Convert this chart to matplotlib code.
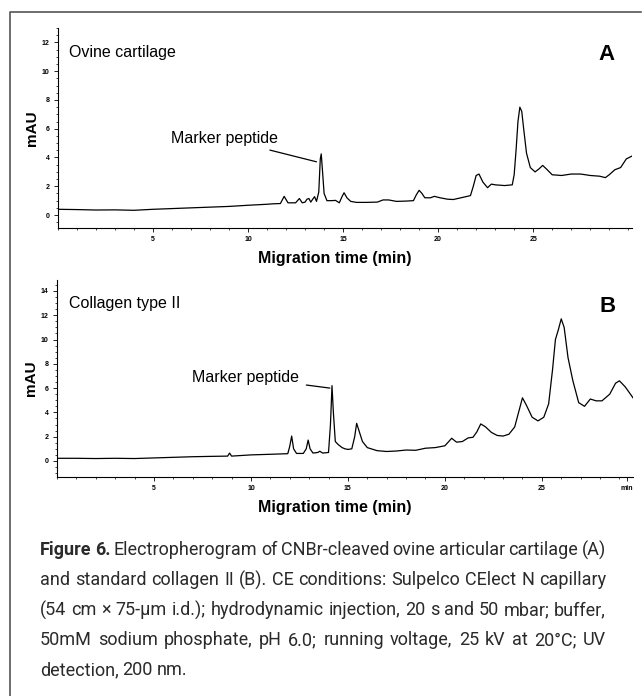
import matplotlib
matplotlib.use("Agg")
import matplotlib.pyplot as plt
from matplotlib.lines import Line2D
from matplotlib.ticker import MultipleLocator

# panel A: ovine cartilage trace (min, mAU)
time_a = [0, 1, 2, 3, 4, 5, 6, 7, 8, 9, 10, 11, 11.3, 11.7, 11.8, 11.9, 12.1,
          12.5, 12.6, 12.7, 12.85, 13.0, 13.1, 13.2, 13.3, 13.4, 13.5, 13.6,
          13.72, 13.8, 13.85, 13.92, 14.0, 14.15, 14.4, 14.6, 14.8, 14.95, 15.05,
          15.2, 15.4, 15.7, 16.2, 16.8, 17.1, 17.4, 17.8, 18.3, 18.7, 18.85,
          19.0, 19.15, 19.3, 19.6, 19.8, 20.1, 20.5, 20.8, 21.2, 21.7, 21.85,
          22.0, 22.15, 22.35, 22.6, 22.8, 23.0, 23.5, 23.9, 24.0, 24.1, 24.2,
          24.3, 24.4, 24.5, 24.65, 24.85, 25.1, 25.3, 25.5, 25.7, 26.0, 26.5,
          27.0, 27.5, 28.0, 28.5, 28.8, 29.0, 29.3, 29.6, 29.9, 30.2]
mau_a = [0.4, 0.38, 0.35, 0.36, 0.33, 0.4, 0.45, 0.5, 0.55, 0.6, 0.68, 0.75,
         0.78, 0.8, 1.05, 1.3, 0.85, 0.85, 1.0, 1.15, 0.85, 0.9, 1.1, 1.15, 0.9,
         1.1, 1.28, 0.95, 1.6, 3.9, 4.25, 3.0, 1.5, 1.0, 1.0, 1.02, 0.85, 1.3,
         1.55, 1.2, 0.95, 0.88, 0.88, 0.9, 1.05, 1.05, 0.95, 0.97, 1.0, 1.4,
         1.72, 1.5, 1.2, 1.2, 1.3, 1.2, 1.1, 1.08, 1.2, 1.35, 2.0, 2.75, 2.85,
         2.3, 1.9, 2.15, 2.1, 2.05, 2.1, 2.8, 4.5, 6.5, 7.5, 7.2, 6.0, 4.3, 3.3,
         3.0, 3.2, 3.45, 3.2, 2.8, 2.75, 2.85, 2.85, 2.75, 2.7, 2.6, 2.8, 3.15,
         3.3, 3.9, 4.1]

# panel B: collagen type II trace (min, mAU)
time_b = [0, 1, 2, 3, 4, 5, 6, 7, 8, 8.8, 8.9, 9.0, 10, 11, 11.9, 12.0, 12.1,
          12.2, 12.35, 12.7, 12.85, 12.95, 13.05, 13.2, 13.45, 13.55, 13.7, 14.0,
          14.1, 14.18, 14.25, 14.35, 14.5, 14.7, 14.85, 15.0, 15.2, 15.35, 15.45,
          15.55, 15.75, 16.0, 16.5, 17.0, 17.5, 18.0, 18.5, 19.0, 19.5, 20.0,
          20.2, 20.35, 20.6, 20.9, 21.2, 21.45, 21.65, 21.85, 22.1, 22.4, 22.7,
          23.0, 23.3, 23.6, 23.85, 24.0, 24.2, 24.5, 24.8, 25.1, 25.35, 25.55,
          25.7, 25.85, 26.0, 26.15, 26.35, 26.6, 26.9, 27.2, 27.5, 27.8, 28.1,
          28.5, 28.8, 29.0, 29.3, 29.7]
mau_b = [0.22, 0.22, 0.2, 0.22, 0.2, 0.25, 0.3, 0.35, 0.38, 0.4, 0.65, 0.4,
         0.5, 0.55, 0.6, 1.2, 2.05, 1.0, 0.62, 0.62, 1.0, 1.72, 1.0, 0.65, 0.7,
         0.8, 0.65, 0.7, 3.0, 6.2, 4.0, 1.6, 1.35, 1.1, 1.0, 0.95, 1.0, 2.0, 3.1,
         2.6, 1.6, 1.1, 0.85, 0.78, 0.82, 0.9, 0.88, 1.05, 1.1, 1.25, 1.6, 1.87,
         1.55, 1.6, 1.9, 1.95, 2.4, 3.05, 2.8, 2.35, 2.1, 2.05, 2.2, 2.8, 4.3,
         5.2, 4.6, 3.6, 3.3, 3.6, 4.7, 7.5, 10.0, 10.8, 11.7, 11.0, 8.5, 6.6,
         4.8, 4.5, 5.1, 4.95, 4.95, 5.5, 6.4, 6.6, 6.1, 5.2]

caption = [
    [("Figure 6.", "bold"), ("Electropherogram of CNBr-cleaved ovine articular cartilage (A)", "normal")],
    [("and standard collagen II (B). CE conditions: Sulpelco CElect N capillary", "normal")],
    [("(54 cm × 75-µm i.d.); hydrodynamic injection, 20 s and 50 mbar; buffer,", "normal")],
    [("50mM sodium phosphate, pH 6.0; running voltage, 25 kV at 20°C; UV", "normal")],
    [("detection, 200 nm.", "normal")],
]

W, H = 643, 696
plt.rcParams['font.family'] = ['Liberation Sans', 'DejaVu Sans']
fig = plt.figure(figsize=(W / 100, H / 100), dpi=100)
fig.patch.set_facecolor('white')


def panel(box, t, y, xmax, ylim, ymax_tick, name, letter, note_xy, note_to, last_label):
    left, top, right, bottom = box
    ax = fig.add_axes([left / W, 1 - bottom / H, (right - left) / W, (bottom - top) / H])
    ax.plot(t, y, color='black', lw=0.9)
    ax.set_xlim(0, xmax)
    ax.set_ylim(*ylim)
    for s in ['top', 'right']:
        ax.spines[s].set_visible(False)
    for s in ['left', 'bottom']:
        ax.spines[s].set_linewidth(0.8)
    ax.set_yticks(range(0, ymax_tick + 1, 2))
    ax.yaxis.set_minor_locator(MultipleLocator(0.5))
    xt = [5, 10, 15, 20, 25]
    xl = ['5', '10', '15', '20', '25']
    if last_label:
        xt.append(29.4)
        xl.append(last_label)
    ax.set_xticks(xt)
    ax.set_xticklabels(xl)
    ax.xaxis.set_minor_locator(MultipleLocator(1))
    ax.tick_params(which='major', length=3, width=0.6, labelsize=5, pad=3)
    ax.tick_params(which='minor', length=1.5, width=0.5)
    for lab in ax.get_xticklabels() + ax.get_yticklabels():
        lab.set_fontweight('bold')
    ax.set_ylabel('mAU', fontsize=11, fontweight='bold', labelpad=2)
    ax.set_xlabel('Migration time (min)', fontsize=11.5, fontweight='bold')
    # label sits about 23 px under the axis line
    ax.xaxis.set_label_coords(0.482, -23.0 / (bottom - top))
    ax.xaxis.label.set_va('top')
    ax.text(0.02, 0.88, name, transform=ax.transAxes, fontsize=11.5, va='center')
    ax.text(0.955, 0.865, letter, transform=ax.transAxes, fontsize=16,
            fontweight='bold', ha='center', va='center')
    ax.annotate('Marker peptide', xy=note_to, xytext=note_xy, fontsize=11.5,
                ha='right', va='center',
                arrowprops=dict(arrowstyle='-', color='black', lw=0.9,
                                shrinkA=3, shrinkB=0))
    return ax


panel((58, 28, 632, 228), time_a, mau_a, 30.2, (-0.9, 13.0), 12,
      'Ovine cartilage', 'A', (11.6, 5.3), (13.6, 3.7), None)
panel((57, 280, 633, 477), time_b, mau_b, 29.7, (-1.32, 14.9), 14,
      'Collagen type II', 'B', (12.5, 6.9), (14.07, 6.0), 'min')

# frame around the figure
fig.add_artist(Line2D([10 / W, 10 / W, 641 / W], [0, 1 - 12 / H, 1 - 12 / H],
                      transform=fig.transFigure, color='#555555', lw=1.2))

# caption, justified like the printed page
cap_font = ['Roboto', 'DejaVu Sans']
x0, x1 = 40, 606
fig.canvas.draw()
r = fig.canvas.get_renderer()

lines = []
for line in caption:
    words = []
    for txt, wt in line:
        for w in txt.split(' '):
            words.append((w, wt))
    lines.append(words)

# find the font size at which the longest line still fits with normal spaces
probe = 13.0
need = 0
for words in lines:
    tot = 0
    for w, wt in words:
        a = fig.text(0, 0, w, fontsize=probe, fontweight=wt, family=cap_font)
        tot += a.get_window_extent(r).width
        a.remove()
    tot += (len(words) - 1) * probe * 0.28
    need = max(need, tot)
cap_size = min(13.5, probe * (x1 - x0) / need)

for i, words in enumerate(lines):
    yy = 1 - (550 + 30 * i) / H
    arts = [fig.text(0, yy, w, fontsize=cap_size, fontweight=wt, family=cap_font,
                     color='#2a2a2a', va='center') for w, wt in words]
    widths = [a.get_window_extent(r).width for a in arts]
    if i < len(lines) - 1:
        gap = (x1 - x0 - sum(widths)) / (len(arts) - 1)
    else:
        gap = cap_size * 0.28
    x = x0
    for a, w in zip(arts, widths):
        a.set_x(x / W)
        x += w + gap

fig.savefig('out.png', dpi=100)
